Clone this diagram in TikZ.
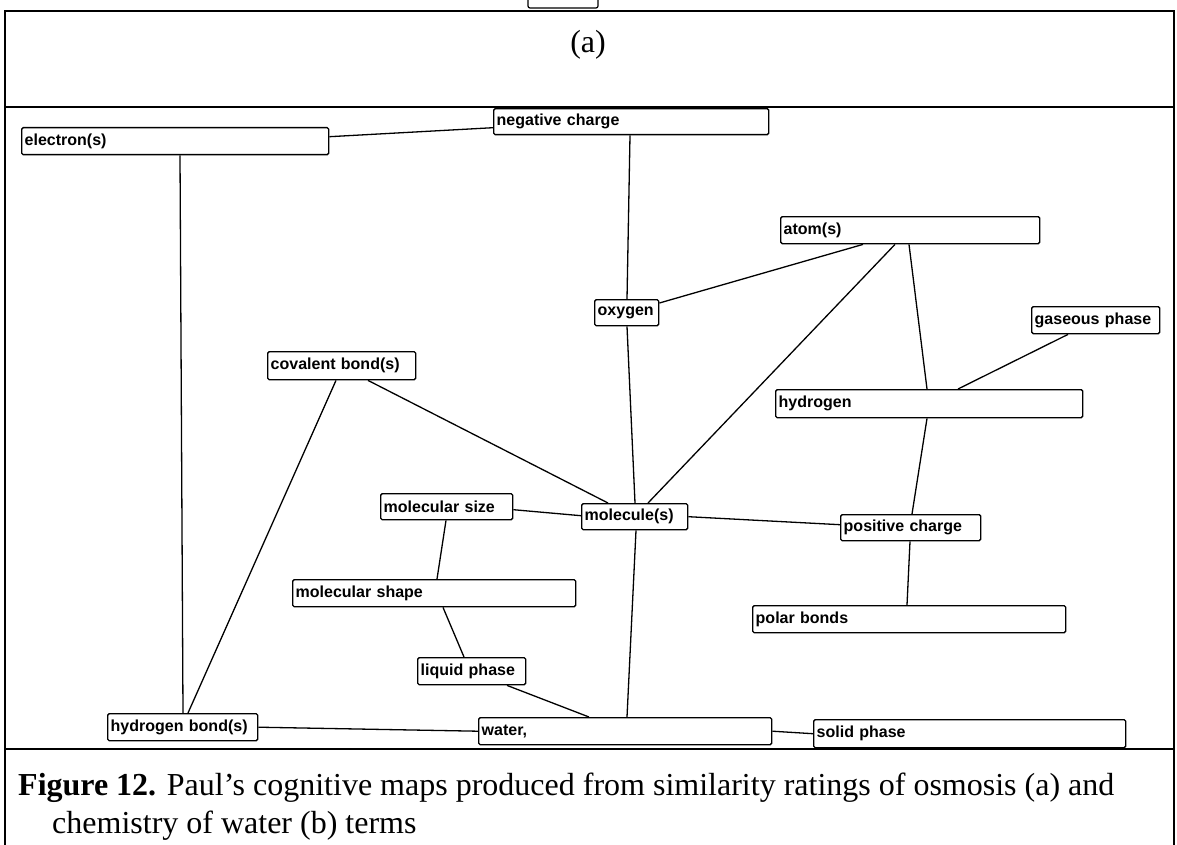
\documentclass[tikz,border=0pt]{standalone}
\usepackage{fontspec}
\setmainfont{Liberation Serif}
\newfontfamily\mapfont{Liberation Sans}
\begin{document}
\begin{tikzpicture}[x=1pt,y=-1pt,
  mbox/.style={draw, line width=1.4pt, rounded corners=1.5pt, anchor=north west,
    inner xsep=3pt, inner ysep=0pt, align=left, font=\mapfont\bfseries\fontsize{16}{18}\selectfont},
  link/.style={line width=1.3pt},
  frame/.style={line width=1.4pt},
  captxt/.style={anchor=base west, inner sep=0pt, font=\fontsize{32}{38}\selectfont}]
\useasboundingbox (0,0) rectangle (1177,845);
\clip (0,0) rectangle (1177,845);
% frame
\draw[frame] (5,845) -- (5,11) -- (1174,11) -- (1174,845);
\draw[frame] (5,107) -- (1174,107);
\draw[frame] (5,749) -- (1174,749);
\draw[line width=1.2pt, rounded corners=2pt] (528,-12) rectangle (598,8);
\node[font=\fontsize{32}{36}\selectfont] (lbl) at (588,45) {(a)};
% nodes
\node[mbox, text width=269pt, minimum height=26pt] (neg) at (493,108) {negative charge};
\node[mbox, text width=301pt, minimum height=27pt] (ele) at (21,127) {electron(s)};
\node[mbox, text width=253pt, minimum height=27pt] (atom) at (780,216) {atom(s)};
\node[mbox, text width=58pt, minimum height=26pt] (oxy) at (594,299) {oxygen};
\node[mbox, text width=122pt, minimum height=27pt] (gas) at (1031,306) {gaseous phase};
\node[mbox, text width=142pt, minimum height=28pt] (cov) at (267,351) {covalent bond(s)};
\node[mbox, text width=301pt, minimum height=28pt] (hyd) at (775,389) {hydrogen};
\node[mbox, text width=126pt, minimum height=26pt] (msize) at (380,493) {molecular size};
\node[mbox, text width=100pt, minimum height=26pt] (mol) at (581,503) {molecule(s)};
\node[mbox, text width=134pt, minimum height=26pt] (pos) at (840,514) {positive charge};
\node[mbox, text width=277pt, minimum height=27pt] (mshape) at (292,579) {molecular shape};
\node[mbox, text width=307pt, minimum height=27pt] (polar) at (752,605) {polar bonds};
\node[mbox, text width=102pt, minimum height=27pt] (liq) at (417,657) {liquid phase};
\node[mbox, text width=144pt, minimum height=27pt] (hb) at (107,713) {hydrogen bond(s)};
\node[mbox, text width=287pt, minimum height=27pt] (water) at (478,717) {water,};
\node[mbox, text width=306pt, minimum height=28pt] (solid) at (813,719) {solid phase};
% connectors
\draw[link] ([yshift=4.5pt]ele.east) -- ([yshift=-6pt]neg.west);
\draw[link] ([xshift=159pt]ele.south west) -- ([xshift=76pt]hb.north west);
\draw[link] ([xshift=137pt]neg.south west) -- ([xshift=33pt]oxy.north west);
\draw[link] ([xshift=33pt]oxy.south west) -- ([xshift=54pt]mol.north west);
\draw[link] ([xshift=83pt]atom.south west) -- ([yshift=-4pt]oxy.north east);
\draw[link] ([xshift=115pt]atom.south west) -- ([xshift=67pt]mol.north west);
\draw[link] ([xshift=129pt]atom.south west) -- ([xshift=152pt]hyd.north west);
\draw[link] ([xshift=37pt]gas.south west) -- ([xshift=183pt]hyd.north west);
\draw[link] ([xshift=152pt]hyd.south west) -- ([xshift=72pt]pos.north west);
\draw[link] ([xshift=70pt]pos.south west) -- ([xshift=155pt]polar.north west);
\draw[link] (mol.east) -- ([yshift=3pt]pos.west);
\draw[link] ([yshift=-3pt]msize.east) -- ([yshift=1pt]mol.west);
\draw[link] ([xshift=69pt]cov.south west) -- ([xshift=81pt]hb.north west);
\draw[link] ([xshift=101pt]cov.south west) -- ([xshift=27pt]mol.north west);
\draw[link] ([xshift=66pt]msize.south west) -- ([xshift=145pt]mshape.north west);
\draw[link] ([xshift=151pt]mshape.south west) -- ([xshift=47pt]liq.north west);
\draw[link] ([xshift=55pt]mol.south west) -- ([xshift=149pt]water.north west);
\draw[link] ([xshift=90pt]liq.south west) -- ([xshift=111pt]water.north west);
\draw[link] (hb.east) -- (water.west);
\draw[link] (water.east) -- (solid.west);
% caption
\node[captxt] (cap1) at (18,795)
  {\textbf{Figure 12.} Paul’s cognitive maps produced from similarity ratings of osmosis (a) and};
\node[captxt] (cap2) at (52,833) {chemistry of water (b) terms};
\end{tikzpicture}
\end{document}
